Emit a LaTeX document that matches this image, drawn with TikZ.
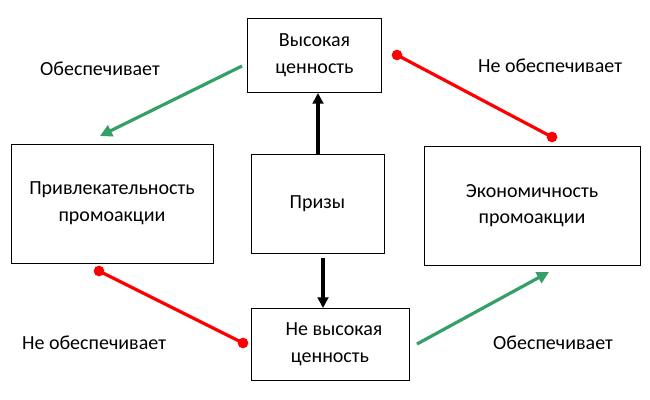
\documentclass[tikz,border=0pt]{standalone}
\usepackage{fontspec}
\setmainfont{Carlito}
\usetikzlibrary{arrows.meta}
\definecolor{grn}{RGB}{52,160,104}
\definecolor{rd}{RGB}{255,0,0}
\begin{document}
\begin{tikzpicture}[x=0.75pt,y=-0.75pt,
  box/.style={draw=black,line width=0.75pt,inner sep=0pt,align=center,font=\fontsize{15}{20}\selectfont},
  lbl/.style={font=\fontsize{15}{20}\selectfont,inner sep=0pt},
  blk/.style={line width=2.4pt,-{Triangle[length=8pt,width=8pt]}},
  gr/.style={draw=grn,line width=2.4pt,-{Triangle[length=9pt,width=9pt]}},
  rl/.style={draw=rd,line width=2.4pt},
  dot/.style={circle,fill=rd,inner sep=0pt,minimum size=8pt}]
\useasboundingbox (0,0) rectangle (650,400);
\node[box,minimum width=100pt,minimum height=55.5pt] (hv) at (314.5,55) {Высокая\\ценность};
\node[box,minimum width=99.75pt,minimum height=74.25pt] (pr) at (317.5,203.5) {Призы};
\node[box,minimum width=118.5pt,minimum height=54pt] (nv) at (330,344) {\hspace{6pt}Не высокая\\ценность};
\node[box,minimum width=151.5pt,minimum height=89.25pt] (pa) at (112,203.5) {Привлекательность\\промоакции};
\node[box,minimum width=162pt,minimum height=89.25pt] (ek) at (532,205.5) {Экономичность\\промоакции};
\coordinate (a1) at (318,154);
\draw[blk] (a1) -- (318,93) coordinate (a2);
\coordinate (b1) at (323,258);
\coordinate (b2) at (323,308);
\draw[blk] (b1) -- (b2);
\coordinate (g1) at (242,66);
\coordinate (g2) at (100,136);
\draw[gr] (g1) -- (g2);
\coordinate (g3) at (417,344);
\coordinate (g4) at (549,272);
\draw[gr] (g3) -- (g4);
\node[dot] (r1) at (397,55) {};
\node[dot] (r2) at (552,137) {};
\draw[rl] (r1.center) -- (r2.center);
\node[dot] (r3) at (99,271) {};
\node[dot] (r4) at (243,343) {};
\draw[rl] (r3.center) -- (r4.center);
\node[lbl] (l1) at (100,69) {Обеспечивает};
\node[lbl] (l2) at (550,66) {Не обеспечивает};
\node[lbl] (l3) at (94,343) {Не обеспечивает};
\node[lbl] (l4) at (553,343) {Обеспечивает};
\end{tikzpicture}
\end{document}
